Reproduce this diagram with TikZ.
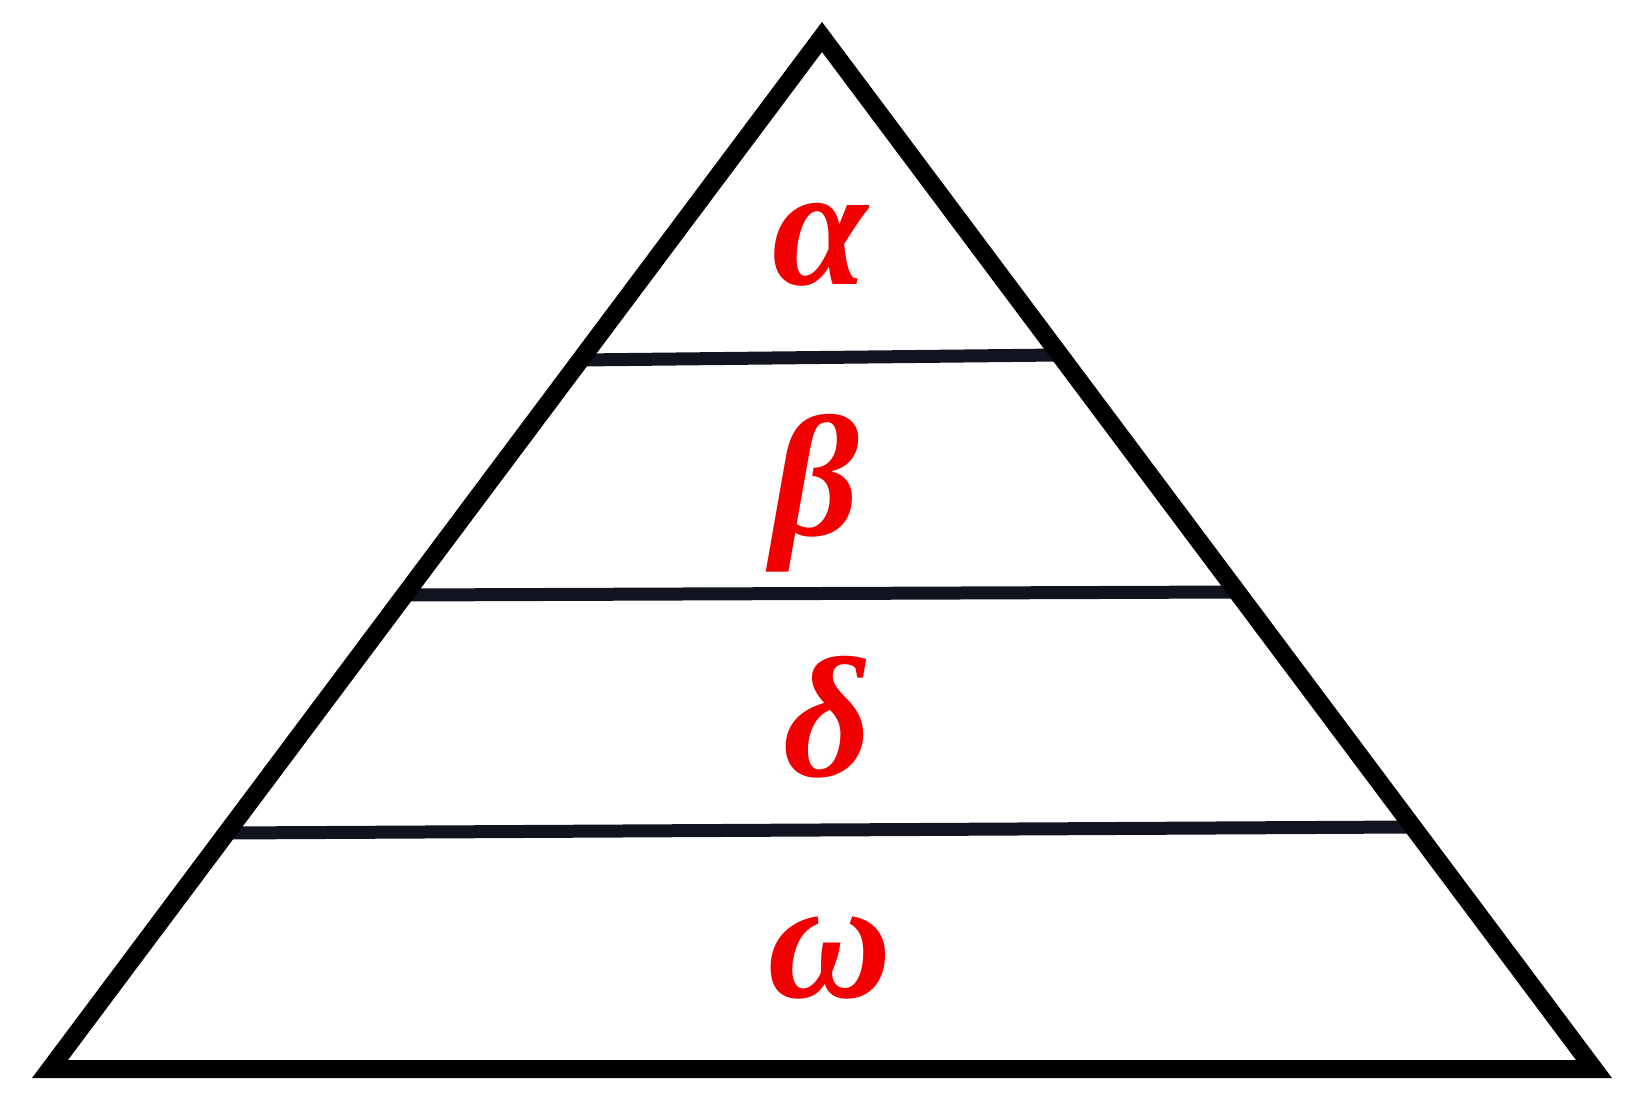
\documentclass[tikz,border=0pt]{standalone}
\usepackage{fontspec}
\setmainfont{Liberation Serif}
\usepackage{xcolor}
\usepackage{tikz}
\usetikzlibrary{positioning}

\definecolor{lyrred}{HTML}{F00000}
\definecolor{lyrline}{HTML}{11141F}

\begin{document}
\begin{tikzpicture}[
    x=0.02cm, y=-0.02cm,
    outline/.style={draw=black, line width=0.36cm, line join=miter},
    layer/.style={draw=lyrline, line width=0.26cm},
    greek/.style={inner sep=0pt, text=lyrred, font=\fontsize{98}{100}\selectfont\bfseries\itshape}
]
\useasboundingbox (0,0) rectangle (1637,1108);
% Corners
\coordinate (apex) at (822,37);
\coordinate (bl) at (50,1069);
\coordinate (br) at (1594,1069);
% Layer ends
\coordinate (l1) at (580,360);
\coordinate (r1) at (1060,355);
\coordinate (l2) at (404,595);
\coordinate (r2) at (1238,592);
\coordinate (l3) at (226,833);
\coordinate (r3) at (1413,827);
% Layers
\draw[layer] (l1) -- (r1);
\draw[layer] (l2) -- (r2);
\draw[layer] (l3) -- (r3);
% Pyramid
\draw[outline] (apex) -- (bl) -- (br) -- cycle;
% Labels
\node[greek] (alpha) at (820,245) {α};
\node[greek] (beta) at (816,493) {β};
\node[greek] (delta) at (828,717) {δ};
\node[greek] (omega) at (830,958) {ω};
\end{tikzpicture}
\end{document}
